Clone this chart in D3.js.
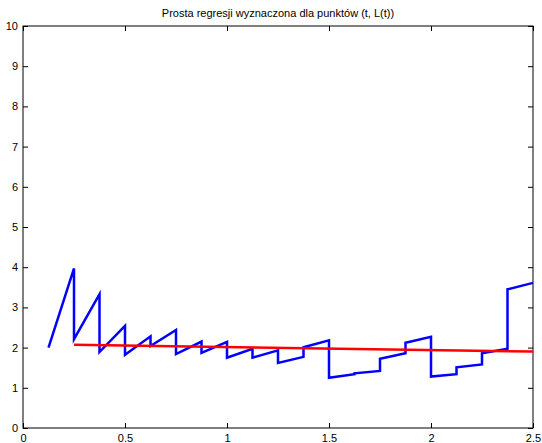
<!DOCTYPE html>
<html>
<head>
<meta charset="utf-8">
<script src="https://cdn.jsdelivr.net/npm/d3@7"></script>
<style>
  body { margin: 0; background: #fff; }
  text { font-family: "Liberation Sans", Arial, sans-serif; font-size: 11px; fill: #000; }
</style>
</head>
<body>
<div id="chart"></div>
<script>
// points (t, L(t)) - vertical jumps are two points at the same t
var tVals = [0.125, 0.25, 0.25, 0.375, 0.375, 0.5, 0.5, 0.625, 0.625, 0.75, 0.75,
    0.875, 0.875, 1.0, 1.0, 1.125, 1.125, 1.25, 1.25, 1.375, 1.375, 1.5, 1.5,
    1.625, 1.625, 1.75, 1.75, 1.875, 1.875, 2.0, 2.0, 2.125, 2.125, 2.25, 2.25,
    2.375, 2.375, 2.5];
var lVals = [2.0, 3.97, 2.21, 3.33, 1.89, 2.54, 1.82, 2.28, 2.04, 2.44, 1.84,
    2.15, 1.87, 2.14, 1.75, 1.97, 1.75, 1.93, 1.62, 1.77, 2.01, 2.18, 1.25,
    1.34, 1.36, 1.42, 1.72, 1.86, 2.12, 2.27, 1.28, 1.34, 1.51, 1.58, 1.86,
    1.97, 3.45, 3.61];

// regression line
var regT = [0.25, 2.5];
var regL = [2.07, 1.90];

var xTicks = [0, 0.5, 1, 1.5, 2, 2.5];
var yTicks = [0, 1, 2, 3, 4, 5, 6, 7, 8, 9, 10];
var title = "Prosta regresji wyznaczona dla punktów (t, L(t))";

var svgWidth = 542, svgHeight = 443;
var margin = { top: 26, right: 9, bottom: 15, left: 23 };
var width = svgWidth - margin.left - margin.right;
var height = svgHeight - margin.top - margin.bottom;

var svg = d3.select("#chart").append("svg")
    .attr("width", svgWidth)
    .attr("height", svgHeight);

var g = svg.append("g")
    .attr("transform", `translate(${margin.left}, ${margin.top})`);

var x = d3.scaleLinear().domain([0, 2.5]).range([0, width]);
var y = d3.scaleLinear().domain([0, 10]).range([height, 0]);

// axes, MATLAB style: ticks pointing inwards on all four sides
g.append("g")
    .attr("transform", `translate(0, ${height})`)
    .call(d3.axisBottom(x).tickValues(xTicks).tickSize(-5).tickPadding(6).tickFormat(d3.format("")))
    .call(a => a.select(".domain").remove());
g.append("g")
    .call(d3.axisTop(x).tickValues(xTicks).tickSize(-5).tickFormat(""))
    .call(a => a.select(".domain").remove());
g.append("g")
    .call(d3.axisLeft(y).tickValues(yTicks).tickSize(-5).tickPadding(5))
    .call(a => a.select(".domain").remove());
g.append("g")
    .attr("transform", `translate(${width}, 0)`)
    .call(d3.axisRight(y).tickValues(yTicks).tickSize(-5).tickFormat(""))
    .call(a => a.select(".domain").remove());

g.selectAll(".tick line").attr("stroke", "#000");
g.selectAll(".tick text").style("font-size", "11px");

g.append("rect")
    .attr("width", width)
    .attr("height", height)
    .attr("fill", "none")
    .attr("stroke", "#000")
    .attr("stroke-width", 1);

var line = d3.line()
    .x(i => x(tVals[i]))
    .y(i => y(lVals[i]));

g.append("path")
    .datum(d3.range(tVals.length))
    .attr("d", line)
    .attr("fill", "none")
    .attr("stroke", "#0000ff")
    .attr("stroke-width", 2.5)
    .attr("stroke-linejoin", "miter");

g.append("path")
    .datum(d3.range(regT.length))
    .attr("d", d3.line().x(i => x(regT[i])).y(i => y(regL[i])))
    .attr("fill", "none")
    .attr("stroke", "#ff0000")
    .attr("stroke-width", 2.5);

svg.append("text")
    .attr("x", margin.left + width / 2)
    .attr("y", 17)
    .attr("text-anchor", "middle")
    .text(title);
</script>
</body>
</html>
